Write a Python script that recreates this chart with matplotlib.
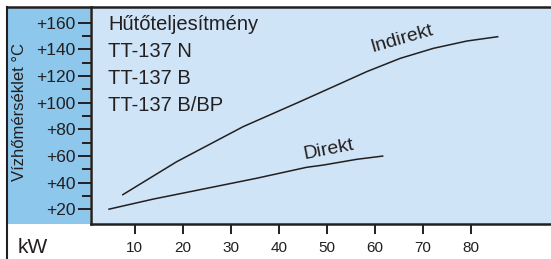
import matplotlib.pyplot as plt
from matplotlib.lines import Line2D
from matplotlib.patches import Rectangle

plt.rcParams['font.family'] = ['Liberation Sans', 'DejaVu Sans']

# values
indirekt_kw = [7.4, 18.75, 32.6, 44.4, 51.4, 58.3, 65.3, 72.2, 79.2, 85.75]
indirekt_temp = [30.7, 55.7, 82.0, 100.7, 112.0, 123.2, 133.2, 140.7, 146.2, 149.5]
direkt_kw = [4.5, 13.9, 21.5, 35.4, 45.8, 49.3, 56.25, 61.8]
direkt_temp = [20.0, 27.7, 33.2, 43.3, 51.5, 53.2, 57.5, 60.0]

x_ticks = [10, 20, 30, 40, 50, 60, 70, 80]
y_ticks = [20, 40, 60, 80, 100, 120, 140, 160]
y_labels = ['+' + str(v) for v in y_ticks]
title_lines = ['Hűtőteljesítmény', 'TT-137 N', 'TT-137 B', 'TT-137 B/BP']

ink = '#231F20'
light_blue = '#CFE4F6'
dark_blue = '#8DC7EC'

W, H = 551, 259
fig = plt.figure(figsize=(W / 100, H / 100), dpi=100)
fig.patch.set_facecolor('white')

# left darker panel behind the y tick labels
fig.patches.append(Rectangle((7 / W, 35 / H), 83 / W, 217 / H, transform=fig.transFigure,
                             facecolor=dark_blue, edgecolor='none', zorder=-1))

ax = fig.add_axes([90.5 / W, 35 / H, (W - 90.5) / W, 217 / H])
ax.set_facecolor(light_blue)
ax.set_xlim(0.8, 96.7)
ax.set_ylim(9, 171.7)

ax.plot(indirekt_kw, indirekt_temp, color=ink, lw=1.1, solid_capstyle='butt')
ax.plot(direkt_kw, direkt_temp, color=ink, lw=1.1, solid_capstyle='butt')
ax.text(65.7, 147.5, 'Indirekt', rotation=16, ha='center', va='center', fontsize=14, color=ink)
ax.text(50.5, 65, 'Direkt', rotation=11, ha='center', va='center', fontsize=14, color=ink)

for s in ['top', 'right']:
    ax.spines[s].set_visible(False)
for s in ['left', 'bottom']:
    ax.spines[s].set_linewidth(1.8)
    ax.spines[s].set_color(ink)

ax.set_xticks(x_ticks)
ax.set_xticklabels([str(v) for v in x_ticks], fontsize=11, color=ink)
ax.tick_params(axis='x', direction='out', length=7.5, width=1.4, color=ink, pad=5)
ax.set_yticks(y_ticks)
ax.set_yticklabels(y_labels, fontsize=12.5, color=ink)
ax.set_yticks(list(range(30, 160, 20)), minor=True)
ax.tick_params(axis='y', which='major', direction='out', length=9.5, width=1.4, color=ink, pad=1.5)
ax.tick_params(axis='y', which='minor', direction='out', length=6.5, width=1.4, color=ink)

# outer frame: top and left border lines
fig.lines.append(Line2D([7 / W, 1], [252 / H, 252 / H], transform=fig.transFigure, color=ink, lw=1.8))
fig.lines.append(Line2D([7 / W, 7 / W], [0, 252.5 / H], transform=fig.transFigure, color=ink, lw=1.5))

for i, line in enumerate(title_lines):
    fig.text(108 / W, (H - 25 - i * 26.7) / H, line, ha='left', va='center', fontsize=14.5, color=ink)

fig.text(20 / W, (H - 112) / H, 'Vízhőmérséklet °C', rotation=90, ha='center', va='center',
         fontsize=12, color=ink)
fig.text(18 / W, (H - 247.5) / H, 'kW', ha='left', va='center', fontsize=15, color=ink)

fig.savefig('out.png', dpi=100)
